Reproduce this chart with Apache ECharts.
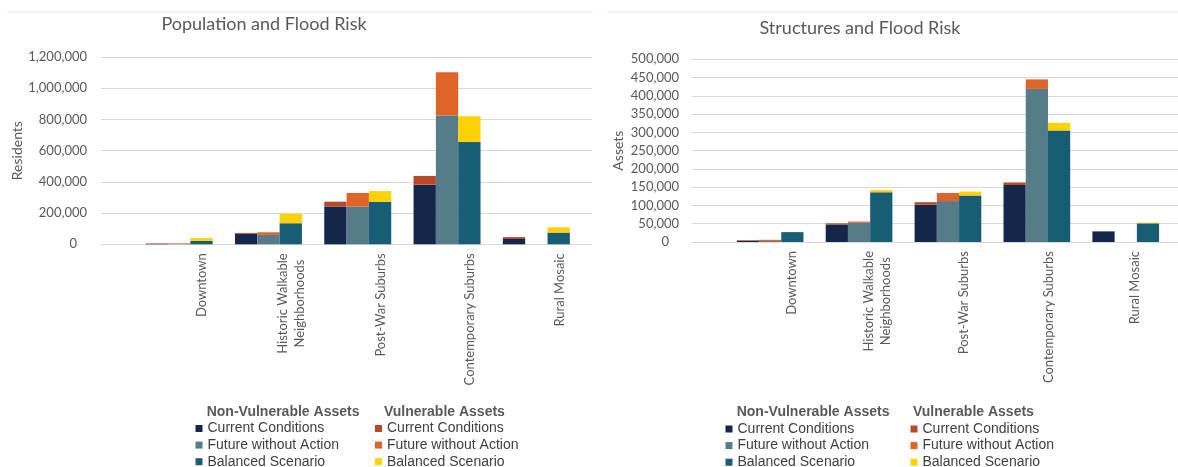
<!DOCTYPE html>
<html>
<head>
<meta charset="utf-8">
<script src="https://cdn.jsdelivr.net/npm/echarts@6.0.0/dist/echarts.min.js"></script>
<style>
  html, body { margin: 0; padding: 0; background: #ffffff; }
  #chart { width: 1178px; height: 467px; }
</style>
</head>
<body>
<div id="chart"></div>
<script>
// Place types shared by both panels
const categories = [
  'Downtown',
  'Historic Walkable\nNeighborhoods',
  'Post-War Suburbs',
  'Contemporary Suburbs',
  'Rural Mosaic'
];

const scenarioLabels = ['Current Conditions', 'Future without Action', 'Balanced Scenario'];

// Residents (left panel): non-vulnerable and vulnerable parts of each scenario
const popCurrentSafe   = [3000, 67000, 242000, 382000, 34000];
const popCurrentVuln   = [3000, 6000, 31000, 56000, 12000];
const popFutureSafe    = [2000, 60000, 241000, 826000, 0];
const popFutureVuln    = [4000, 17000, 88000, 276000, 0];
const popBalancedSafe  = [22000, 135000, 273000, 655000, 75000];
const popBalancedVuln  = [18000, 61000, 68000, 165000, 34000];

// Structures (right panel)
const strCurrentSafe   = [3500, 48000, 102000, 156000, 29000];
const strCurrentVuln   = [1500, 3000, 7000, 7000, 500];
const strFutureSafe    = [2500, 52500, 112000, 419000, 0];
const strFutureVuln    = [3500, 3500, 22000, 26000, 0];
const strBalancedSafe  = [27000, 136000, 127000, 305000, 51000];
const strBalancedVuln  = [0, 6000, 11000, 21000, 2000];

// Value axis tick settings
const popTicks = { max: 1200000, interval: 200000 };
const strTicks = { max: 500000, interval: 50000 };

const safeColors = ['#15264b', '#567c8a', '#175d76'];
const vulnColors = ['#b9472a', '#de6428', '#ffd106'];

const AXIS_FONT = 'Lato';
const LEGEND_FONT = 'Liberation Sans';
const TEXT_GREY = '#595959';
const GRID_GREY = '#d9d9d9';

const option = {
  backgroundColor: '#ffffff',
  animation: false,
  grid: [], xAxis: [], yAxis: [], series: [], legend: [], graphic: []
};
const legendNames = {};

function addPanel(p) {
  const g0 = option.grid.length;
  const plotH = p.bottom - p.top;
  // grid for value axis, gridlines and tick labels
  option.grid.push({ left: p.plotLeft, top: p.top, width: p.plotRight - p.plotLeft, height: plotH });
  // grid holding the bars
  option.grid.push({ left: p.barLeft, top: p.top, width: p.barWidth, height: plotH });
  // grid carrying the category labels
  option.grid.push({ left: p.barLeft + p.labelShift, top: p.top, width: p.barWidth, height: plotH });

  option.xAxis.push({ gridIndex: g0, type: 'category', data: categories, show: false });
  option.xAxis.push({ gridIndex: g0 + 1, type: 'category', data: categories, show: false });
  option.xAxis.push({
    gridIndex: g0 + 2, type: 'category', data: categories,
    axisLine: { show: false }, axisTick: { show: false },
    axisLabel: {
      interval: 0, rotate: 90, margin: 9,
      formatter: v => v.split('\n').map(s => '{c|' + s + '}').join('\n'),
      rich: { c: { align: 'center', fontFamily: AXIS_FONT, fontSize: 13, color: TEXT_GREY, lineHeight: 17 } }
    }
  });

  option.yAxis.push({
    gridIndex: g0, type: 'value', min: 0, max: p.ticks.max, interval: p.ticks.interval,
    axisLine: { show: false }, axisTick: { show: false },
    splitLine: { lineStyle: { color: GRID_GREY, width: 1 } },
    axisLabel: {
      margin: p.labelMargin, color: TEXT_GREY, fontFamily: AXIS_FONT, fontSize: 13,
      formatter: v => v === 0 ? '{z|0}' : '{n|' + v.toLocaleString('en-US') + '}',
      rich: {
        z: { padding: [0, 10, 0, 0], color: TEXT_GREY, fontFamily: AXIS_FONT, fontSize: 13 },
        n: { color: TEXT_GREY, fontFamily: AXIS_FONT, fontSize: 13 }
      }
    },
    name: p.yName, nameLocation: 'middle', nameRotate: 90, nameGap: p.nameGap,
    nameTextStyle: { color: TEXT_GREY, fontFamily: AXIS_FONT, fontSize: 14 }
  });
  option.yAxis.push({ gridIndex: g0 + 1, type: 'value', min: 0, max: p.ticks.max, show: false });
  option.yAxis.push({ gridIndex: g0 + 2, type: 'value', min: 0, max: 1, show: false });

  const safeNames = [], vulnNames = [];
  for (let k = 0; k < 3; k++) {
    const sName = p.key + '-safe-' + k, vName = p.key + '-vuln-' + k;
    safeNames.push(sName); vulnNames.push(vName);
    legendNames[sName] = scenarioLabels[k];
    legendNames[vName] = scenarioLabels[k];
    const common = {
      type: 'bar', xAxisIndex: g0 + 1, yAxisIndex: g0 + 1, stack: p.key + '-stack-' + k,
      barGap: '0%', barCategoryGap: '25%'
    };
    option.series.push(Object.assign({ name: sName, data: p.safe[k], itemStyle: { color: safeColors[k] } }, common));
    option.series.push(Object.assign({ name: vName, data: p.vuln[k], itemStyle: { color: vulnColors[k] } }, common));
  }

  const legendBase = {
    orient: 'vertical', icon: 'rect', itemWidth: 7, itemHeight: 7, itemGap: 0.6,
    padding: 0, selectedMode: false, top: p.legendTop, height: 60, width: 170,
    formatter: n => legendNames[n],
    textStyle: { fontFamily: LEGEND_FONT, fontSize: 14, color: '#404040', lineHeight: 16 }
  };
  option.legend.push(Object.assign({ data: safeNames, left: p.legendLeft[0] }, legendBase));
  option.legend.push(Object.assign({ data: vulnNames, left: p.legendLeft[1] }, legendBase));

  const headStyle = { fontFamily: LEGEND_FONT, fontSize: 14, fontWeight: 'bold', fill: TEXT_GREY, textVerticalAlign: 'middle' };
  option.graphic.push({ type: 'text', x: p.headX[0], y: p.headY, style: Object.assign({ text: 'Non-Vulnerable Assets' }, headStyle) });
  option.graphic.push({ type: 'text', x: p.headX[1], y: p.headY, style: Object.assign({ text: 'Vulnerable Assets' }, headStyle) });
  option.graphic.push({
    type: 'text', x: p.titleX, y: p.titleY,
    style: { text: p.title, fontFamily: AXIS_FONT, fontSize: 18, fill: TEXT_GREY, textAlign: 'center', textVerticalAlign: 'middle' }
  });
  option.graphic.push({
    type: 'line', shape: { x1: p.frame[0], y1: 12, x2: p.frame[1], y2: 12 },
    style: { stroke: '#e6e6e6', lineWidth: 1 }
  });
}

addPanel({
  key: 'pop', title: 'Population and Flood Risk', titleX: 264, titleY: 24.5,
  plotLeft: 101, plotRight: 592, top: 57, bottom: 244.3,
  barLeft: 134.5, barWidth: 446.5, labelShift: 23, labelMargin: 14,
  ticks: popTicks, yName: 'Residents', nameGap: 76,
  safe: [popCurrentSafe, popFutureSafe, popBalancedSafe],
  vuln: [popCurrentVuln, popFutureVuln, popBalancedVuln],
  legendTop: 420.5, legendLeft: [195.5, 375], headX: [206.7, 384], headY: 412,
  frame: [7, 593]
});

addPanel({
  key: 'str', title: 'Structures and Flood Risk', titleX: 860, titleY: 28,
  plotLeft: 691.7, plotRight: 1178, top: 59.3, bottom: 242,
  barLeft: 725.7, barWidth: 444.5, labelShift: 23, labelMargin: 12.7,
  ticks: strTicks, yName: 'Assets', nameGap: 66,
  safe: [strCurrentSafe, strFutureSafe, strBalancedSafe],
  vuln: [strCurrentVuln, strFutureVuln, strBalancedVuln],
  legendTop: 421, legendLeft: [725.5, 910.5], headX: [736.7, 913], headY: 412.5,
  frame: [607, 1178]
});

const chart = echarts.init(document.getElementById('chart'), null, { renderer: 'canvas' });
chart.setOption(option);
</script>
</body>
</html>
